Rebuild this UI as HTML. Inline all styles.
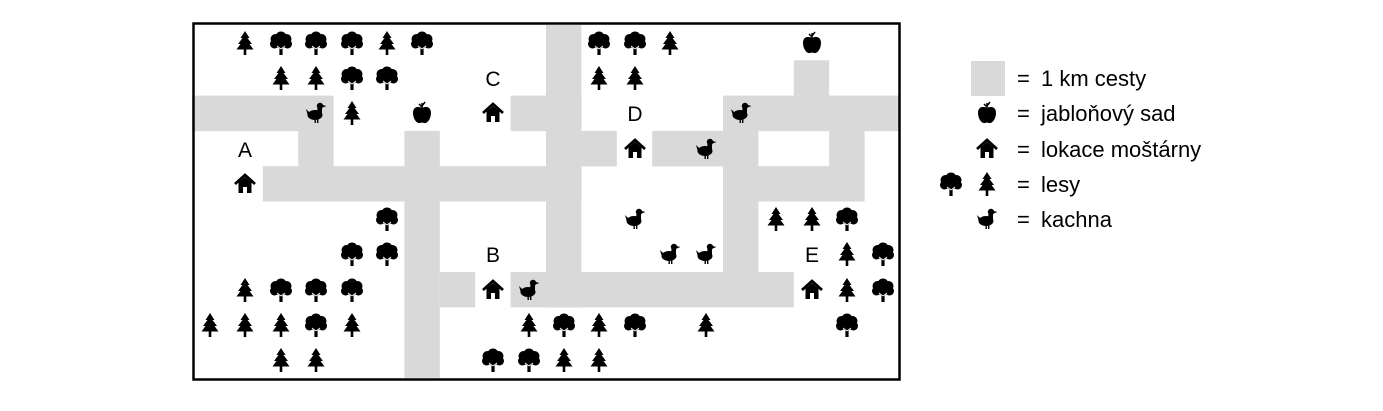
<!DOCTYPE html>
<html><head><meta charset="utf-8"><style>
html,body{margin:0;padding:0;background:#fff;}
svg{display:block;}
text{font-family:"Liberation Sans",sans-serif;font-size:21px;fill:#000;}
.lg{font-size:22px;}
</style></head><body>
<svg width="1383" height="411" viewBox="0 0 1383 411" xmlns="http://www.w3.org/2000/svg">
<defs>
<symbol id="pine" viewBox="-12 -12 24 24" width="24" height="24" overflow="visible">
<polygon points="0,-12 -4.5,-5 -2.5,-5 -7,1 -4.5,1 -8.5,6.5 -1.3,6.5 -1.3,12 1.3,12 1.3,6.5 8.5,6.5 4.5,1 7,1 2.5,-5 4.5,-5" fill="#000"/>
</symbol>
<symbol id="oak" viewBox="-12 -12 24 24" width="24" height="24" overflow="visible">
<g fill="#000"><circle cx="0" cy="-6" r="5.5"/><circle cx="-5.5" cy="-4" r="5"/><circle cx="5.5" cy="-4" r="5"/><circle cx="-6.5" cy="1" r="4.5"/><circle cx="6.5" cy="1" r="4.5"/><circle cx="0" cy="0" r="5.5"/>
<rect x="-1.6" y="1" width="3.2" height="11"/></g>
<path d="M0 6 L-4 3 M0 6 L4 3" stroke="#fff" stroke-width="0.8" fill="none"/>
</symbol>
<symbol id="duck" viewBox="-12 -12 24 24" width="24" height="24" overflow="visible">
<g fill="#000"><circle cx="4" cy="-7" r="3.2"/><polygon points="6.5,-8 10.5,-7 6.5,-5.5"/><polygon points="1.5,-6 6,-5 6,1 1,1"/><ellipse cx="-1" cy="2" rx="7.5" ry="5"/><polygon points="-10,-4 -6,0 -8,3"/>
<rect x="-1.5" y="6" width="1.4" height="4"/><rect x="1" y="6" width="1.4" height="4"/></g>
</symbol>
<symbol id="house" viewBox="-12 -12 24 24" width="24" height="24" overflow="visible">
<polyline points="-10,0 0,-9 10,0" stroke="#000" stroke-width="2.8" fill="none"/>
<polygon points="-6.5,-1.5 0,-7 6.5,-1.5 6.5,9 2,9 2,3 -2,3 -2,9 -6.5,9" fill="#000"/>
</symbol>
<symbol id="apple" viewBox="-12 -12 24 24" width="24" height="24" overflow="visible">
<path d="M0 -5 C-3 -7 -9 -7 -9 0 C-9 6 -5 11 -2 10 C-1 9.5 1 9.5 2 10 C5 11 9 6 9 0 C9 -7 3 -7 0 -5 Z" fill="#000"/>
<path d="M0 -5 L0 -10 M0 -6 L-3 -9 M0 -7 L3 -11" stroke="#000" stroke-width="1.5" fill="none"/>
</symbol>
</defs>
<g fill="#d9d9d9">
<rect x="546" y="25" width="35.4" height="282.4"/>
<rect x="793.8" y="60.3" width="35.4" height="35.6"/>
<rect x="192" y="95.6" width="141.6" height="35.6"/>
<rect x="510.6" y="95.6" width="70.8" height="35.6"/>
<rect x="723" y="95.6" width="177" height="35.6"/>
<rect x="298.2" y="130.9" width="35.4" height="35.6"/>
<rect x="404.4" y="130.9" width="35.4" height="247"/>
<rect x="581.4" y="130.9" width="35.4" height="35.6"/>
<rect x="652.2" y="130.9" width="106.2" height="35.6"/>
<rect x="829.2" y="130.9" width="35.4" height="35.6"/>
<rect x="262.8" y="166.2" width="318.6" height="35.3"/>
<rect x="723" y="166.2" width="141.6" height="35.3"/>
<rect x="723" y="201.5" width="35.4" height="70.9"/>
<rect x="439.8" y="272.1" width="35.4" height="35.3"/>
<rect x="510.6" y="272.1" width="283.2" height="35.3"/>
<rect x="971" y="61" width="34" height="35"/>
</g>
<rect x="193.5" y="23.5" width="706" height="356" fill="none" stroke="#000" stroke-width="2.5"/>
<g>
<use href="#pine" x="233" y="31"/><use href="#oak" x="269" y="31"/><use href="#oak" x="304" y="31"/><use href="#oak" x="340" y="31"/><use href="#pine" x="375" y="31"/><use href="#oak" x="410" y="31"/>
<use href="#oak" x="587" y="31"/><use href="#oak" x="623" y="31"/><use href="#pine" x="658" y="31"/><use href="#apple" x="800" y="31"/>
<use href="#pine" x="269" y="66"/><use href="#pine" x="304" y="66"/><use href="#oak" x="340" y="66"/><use href="#oak" x="375" y="66"/>
<use href="#pine" x="587" y="66"/><use href="#pine" x="623" y="66"/>
<use href="#duck" x="304" y="101"/><use href="#pine" x="340" y="101"/><use href="#apple" x="410" y="101"/><use href="#house" x="481" y="101"/><use href="#duck" x="729" y="101"/>
<use href="#house" x="623" y="137"/><use href="#duck" x="694" y="137"/>
<use href="#house" x="233" y="172"/>
<use href="#oak" x="375" y="207"/><use href="#duck" x="623" y="207"/><use href="#pine" x="764" y="207"/><use href="#pine" x="800" y="207"/><use href="#oak" x="835" y="207"/>
<use href="#oak" x="340" y="242"/><use href="#oak" x="375" y="242"/><use href="#duck" x="658" y="242"/><use href="#duck" x="694" y="242"/><use href="#pine" x="835" y="242"/><use href="#oak" x="871" y="242"/>
<use href="#pine" x="233" y="278"/><use href="#oak" x="269" y="278"/><use href="#oak" x="304" y="278"/><use href="#oak" x="340" y="278"/><use href="#house" x="481" y="278"/><use href="#duck" x="517" y="278"/><use href="#house" x="800" y="278"/><use href="#pine" x="835" y="278"/><use href="#oak" x="871" y="278"/>
<use href="#pine" x="198" y="313"/><use href="#pine" x="233" y="313"/><use href="#pine" x="269" y="313"/><use href="#oak" x="304" y="313"/><use href="#pine" x="340" y="313"/>
<use href="#pine" x="517" y="313"/><use href="#oak" x="552" y="313"/><use href="#pine" x="587" y="313"/><use href="#oak" x="623" y="313"/><use href="#pine" x="694" y="313"/><use href="#oak" x="835" y="313"/>
<use href="#pine" x="269" y="348"/><use href="#pine" x="304" y="348"/><use href="#oak" x="481" y="348"/><use href="#oak" x="517" y="348"/><use href="#pine" x="552" y="348"/><use href="#pine" x="587" y="348"/>
<use href="#apple" x="975" y="101"/><use href="#house" x="975" y="137"/><use href="#oak" x="939" y="172"/><use href="#pine" x="975" y="172"/><use href="#duck" x="975" y="207"/>
</g>
<g text-anchor="middle">
<text x="493" y="86">C</text><text x="635" y="121">D</text><text x="245" y="157">A</text><text x="493" y="262">B</text><text x="812" y="262">E</text>
</g>
<g class="lg">
<text class="lg" x="1017" y="86">=</text><text class="lg" x="1041" y="86">1 km cesty</text>
<text class="lg" x="1017" y="121">=</text><text class="lg" x="1041" y="121">jabloňový sad</text>
<text class="lg" x="1017" y="157">=</text><text class="lg" x="1041" y="157">lokace moštárny</text>
<text class="lg" x="1017" y="192">=</text><text class="lg" x="1041" y="192">lesy</text>
<text class="lg" x="1017" y="227">=</text><text class="lg" x="1041" y="227">kachna</text>
</g>
</svg>
</body></html>
